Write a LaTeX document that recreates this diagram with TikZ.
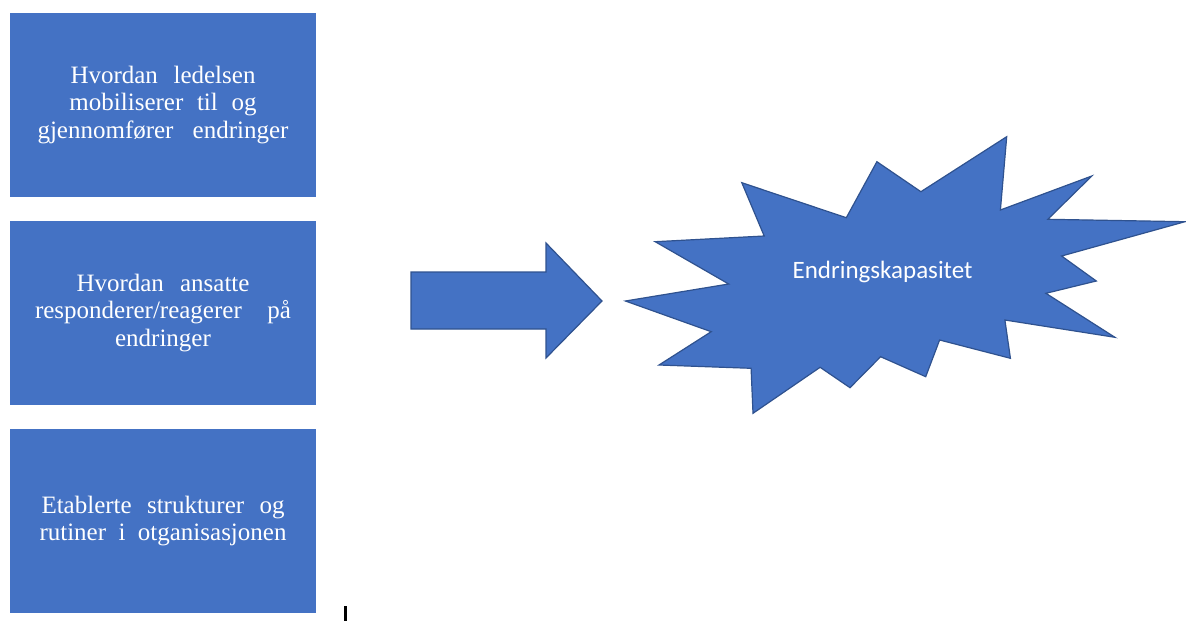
\documentclass[tikz,border=0pt]{standalone}
\usepackage{fontspec}
\setmainfont{Liberation Serif}
\newfontfamily\calibrifont{Carlito}
\definecolor{officeblue}{HTML}{4472C4}
\definecolor{officeedge}{HTML}{2F528F}
\tikzset{
  factorbox/.style={rectangle, fill=officeblue, draw=none, text=white,
    minimum width=306pt, minimum height=184pt, inner sep=0pt, align=center,
    font=\fontsize{25}{27.5}\selectfont},
  bigarrow/.style={fill=officeblue, draw=officeedge, line width=1.2pt, line join=miter},
  burst/.style={fill=officeblue, draw=officeedge, line width=1.2pt, line join=miter},
  bursttext/.style={text=white, font=\calibrifont\fontsize{25}{29}\selectfont, inner sep=0pt}
}
\begin{document}
\begin{tikzpicture}[x=1pt, y=-1pt]
\useasboundingbox (0,0) rectangle (1186,621);

% three factor boxes
\node[factorbox] (lead) at (163,105)
  {\makebox[185pt][s]{Hvordan ledelsen}\\
   \makebox[187pt][s]{mobiliserer til og}\\
   \makebox[251pt][s]{gjennomfører endringer}};
\node[factorbox] (staff) at (163,313)
  {\makebox[173pt][s]{Hvordan ansatte}\\
   \makebox[256pt][s]{responderer/reagerer på}\\
   endringer};
\node[factorbox] (rout) at (163,521)
  {\makebox[243pt][s]{Etablerte strukturer og}\\
   \makebox[247pt][s]{rutiner i otganisasjonen}};

% block arrow
\coordinate (tail) at (411,300.5);
\coordinate (tip) at (602,301);
\draw[bigarrow] (411,272) -- (546,272) -- (546,243) -- (tip)
  -- (546,358) -- (546,329) -- (411,329) -- cycle;

% explosion shape
\draw[burst] (625.4,301) -- (728.7,284) -- (655.2,241.7) -- (764.2,236)
  -- (741.8,182.7) -- (846.3,217.7) -- (876.9,161.7) -- (920.9,191.7)
  -- (1006.7,136.7) -- (1000.4,210) -- (1091.8,176) -- (1047.8,219.3)
  -- (1185,221.7) -- (1061.6,256) -- (1096.3,281) -- (1045.9,293.3)
  -- (1114.9,337.3) -- (1004.9,320) -- (1010.4,358.3) -- (939.6,340)
  -- (925.7,376.7) -- (880.6,356.7) -- (850,387.7) -- (820.1,367.3)
  -- (753,413.3) -- (751.1,368.3) -- (659,365) -- (711.2,331.7) -- cycle;
\node[bursttext, anchor=base] (cap) at (882.6,278.3) {Endringskapasitet};

% text cursor mark
\fill[black] (344,606) rectangle (346.7,621);
\end{tikzpicture}
\end{document}
